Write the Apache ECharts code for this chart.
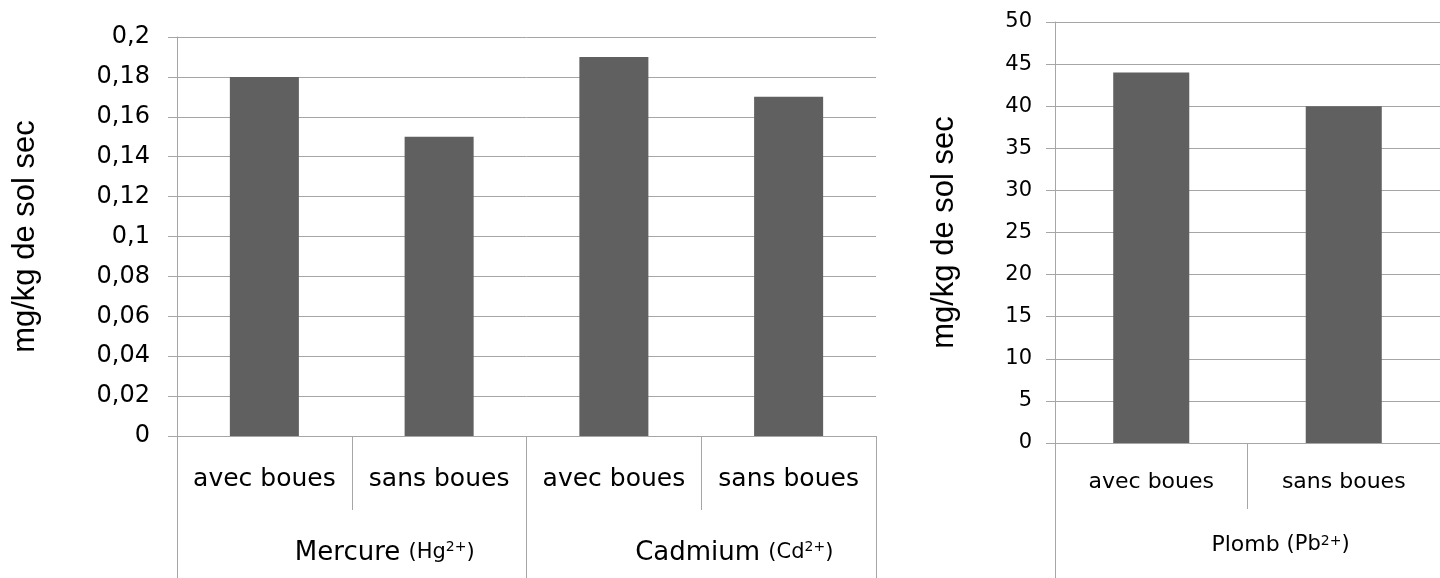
<!DOCTYPE html>
<html>
<head>
<meta charset="utf-8">
<script src="https://cdn.jsdelivr.net/npm/echarts@6/dist/echarts.min.js"></script>
<style>
  html, body { margin: 0; padding: 0; background: #fff; }
  #chart { width: 1440px; height: 578px; }
</style>
</head>
<body>
<div id="chart"></div>
<script>
// left panel: mercure + cadmium
const leftCategories = ['avec boues', 'sans boues', 'avec boues', 'sans boues']
const leftGroups = ['Mercure', 'Cadmium']
const leftIons = ['Hg', 'Cd']
const leftValues = [0.18, 0.15, 0.19, 0.17]

// right panel: plomb
const rightCategories = ['avec boues', 'sans boues']
const rightGroups = ['Plomb']
const rightIons = ['Pb']
const rightValues = [44, 40]

const yTitle = 'mg/kg de sol sec'

const GRAY = '#a6a6a6'
const BAR = '#606060'
const FONT = 'DejaVu Sans'

function valueAxis(gridIndex, max, interval, fontSize, margin, nameGap, fmt) {
  return {
    type: 'value',
    gridIndex,
    min: 0,
    max,
    interval,
    name: yTitle,
    nameLocation: 'middle',
    nameGap,
    nameTextStyle: { fontFamily: 'Liberation Sans', fontSize: 31, color: '#000' },
    axisLine: { show: true, lineStyle: { color: GRAY, width: 1 } },
    axisTick: { show: true, length: 9, lineStyle: { color: GRAY } },
    splitLine: { show: true, lineStyle: { color: GRAY, width: 1 } },
    axisLabel: { fontFamily: FONT, fontSize, color: '#000', margin, formatter: fmt },
  }
}

function rowAxis(gridIndex, data, fontSize, tickLen, margin) {
  return {
    type: 'category',
    gridIndex,
    position: 'bottom',
    data,
    axisLine: { show: true, lineStyle: { color: GRAY, width: 1 } },
    axisTick: { show: true, interval: 0, length: tickLen, lineStyle: { color: GRAY } },
    axisLabel: { interval: 0, fontFamily: FONT, fontSize, color: '#000', margin },
    splitLine: { show: false },
  }
}

function groupAxis(gridIndex, groups, ions, mainSize, tickLen, margin) {
  return {
    type: 'category',
    gridIndex,
    position: 'bottom',
    data: groups,
    axisLine: { show: false },
    axisTick: { show: true, interval: 0, length: tickLen, lineStyle: { color: GRAY } },
    axisLabel: {
      interval: 0,
      margin,
      padding: [0, 0, 0, 66],
      formatter: (v, i) => '{a|' + v + ' }{b|(' + ions[i] + '}{s|2+}{b|)}',
      rich: {
        a: { fontFamily: FONT, fontSize: mainSize, color: '#000' },
        b: { fontFamily: FONT, fontSize: 21, color: '#000' },
        s: { fontFamily: FONT, fontSize: 14, color: '#000', verticalAlign: 'top' },
      },
    },
    splitLine: { show: false },
  }
}

const chart = echarts.init(document.getElementById('chart'))
chart.setOption({
  animation: false,
  grid: [
    { left: 177, top: 37, right: 564, bottom: 142 },
    { left: 1055, top: 22, right: -9, bottom: 135 },
  ],
  xAxis: [
    rowAxis(0, leftCategories, 25, 74, 31),
    groupAxis(0, leftGroups, leftIons, 26, 142, 104),
    rowAxis(1, rightCategories, 22, 66, 28),
    groupAxis(1, rightGroups, rightIons, 22, 135, 91),
  ],
  yAxis: [
    valueAxis(0, 0.2, 0.02, 24, 27, 136, v => String(+v.toFixed(2)).replace('.', ',')),
    valueAxis(1, 50, 5, 21, 23, 95, v => String(v)),
  ],
  series: [
    {
      type: 'bar',
      xAxisIndex: 0,
      yAxisIndex: 0,
      data: leftValues,
      barWidth: '39.5%',
      itemStyle: { color: BAR },
    },
    {
      type: 'bar',
      xAxisIndex: 2,
      yAxisIndex: 1,
      data: rightValues,
      barWidth: '39.5%',
      itemStyle: { color: BAR },
    },
  ],
})
</script>
</body>
</html>
